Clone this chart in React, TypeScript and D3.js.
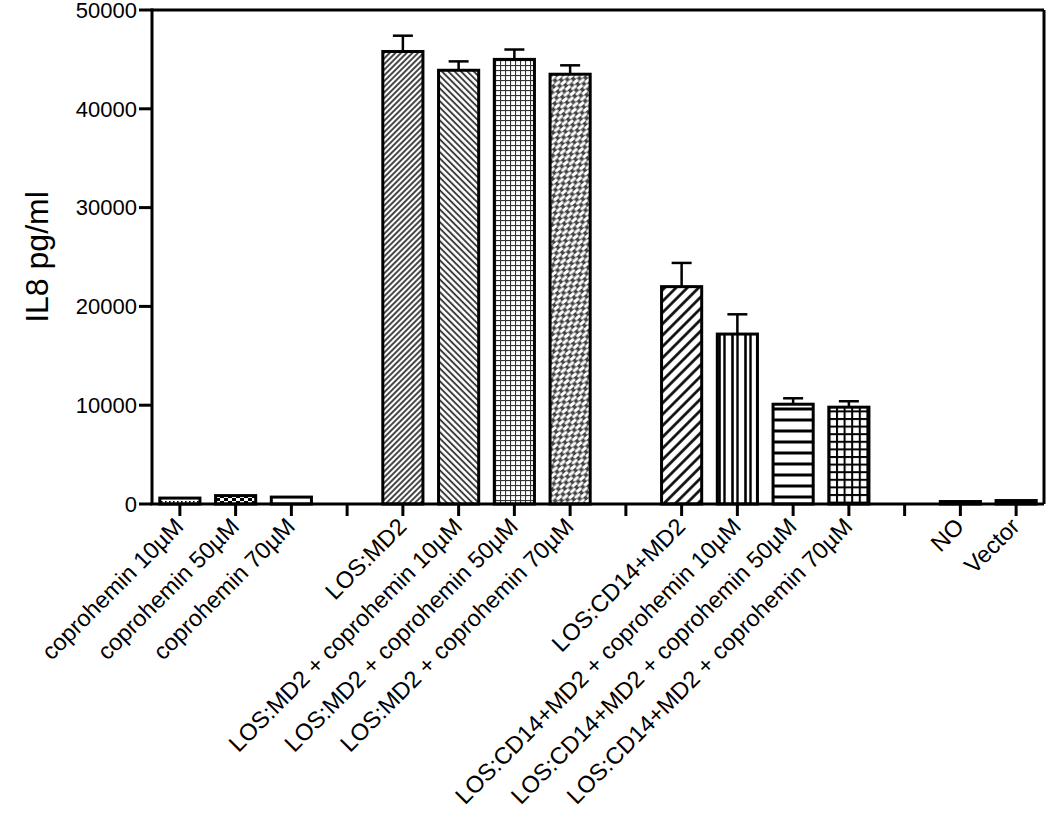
import React from "react";
import * as d3 from "d3";

const categories: string[] = [
  "coprohemin 10µM",
  "coprohemin 50µM",
  "coprohemin 70µM",
  "",
  "LOS:MD2",
  "LOS:MD2 + coprohemin 10µM",
  "LOS:MD2 + coprohemin 50µM",
  "LOS:MD2 + coprohemin 70µM",
  "",
  "LOS:CD14+MD2",
  "LOS:CD14+MD2 + coprohemin 10µM",
  "LOS:CD14+MD2 + coprohemin 50µM",
  "LOS:CD14+MD2 + coprohemin 70µM",
  "",
  "NO",
  "Vector",
];
const values: (number | null)[] = [
  600, 850, 700, null, 45800, 43900, 45000, 43500, null, 22000, 17200, 10100, 9800, null, 250, 350,
];
const errors: (number | null)[] = [
  0, 0, 0, null, 1600, 900, 1000, 900, null, 2400, 2000, 600, 600, null, 0, 0,
];
const fills: string[] = [
  "url(#pDots)", "url(#pChecker)", "#fff", "", "url(#pDiagFineA)", "url(#pDiagFineB)", "url(#pGridFine)", "url(#pBrick)", "",
  "url(#pDiagCoarse)", "url(#pVert)", "url(#pHoriz)", "url(#pGrid)", "", "#000", "#000",
];
const yTicks: number[] = [0, 10000, 20000, 30000, 40000, 50000];

const W = 1050, H = 819;
const left = 152, right = 1044, top = 10, bottom = 504;
const FONT = "'Liberation Sans', Arial, Helvetica, sans-serif";

export default function App() {
  const x = d3.scaleBand<number>().domain(d3.range(categories.length)).range([left, right]).paddingInner(0.28).paddingOuter(0.14);
  const y = d3.scaleLinear().domain([0, 50000]).range([bottom, top]);
  const bw = x.bandwidth();
  const cx = (i: number) => (x(i) as number) + bw / 2;

  return (
    <svg width={W} height={H} style={{ position: "absolute", left: 0, top: 0, background: "#fff" }}>
      <defs>
        <pattern id="pDots" width="4" height="4" patternUnits="userSpaceOnUse">
          <rect width="4" height="4" fill="#fff" />
          <rect x="1" y="1" width="1.6" height="1.6" fill="#000" />
        </pattern>
        <pattern id="pChecker" width="8" height="6" patternUnits="userSpaceOnUse">
          <rect width="8" height="6" fill="#fff" />
          <rect x="0" y="0" width="4" height="3" fill="#000" />
          <rect x="4" y="3" width="4" height="3" fill="#000" />
        </pattern>
        <pattern id="pDiagFineA" width="4" height="4" patternUnits="userSpaceOnUse" patternTransform="rotate(45)">
          <rect width="4" height="4" fill="#fff" />
          <line x1="1" y1="0" x2="1" y2="4" stroke="#333" strokeWidth="1.8" />
        </pattern>
        <pattern id="pDiagFineB" width="4.5" height="4.5" patternUnits="userSpaceOnUse" patternTransform="rotate(-45)">
          <rect width="4.5" height="4.5" fill="#fff" />
          <line x1="1" y1="0" x2="1" y2="4.5" stroke="#333" strokeWidth="1.8" />
        </pattern>
        <pattern id="pGridFine" width="5" height="5" patternUnits="userSpaceOnUse">
          <rect width="5" height="5" fill="#fff" />
          <line x1="0.5" y1="0" x2="0.5" y2="5" stroke="#333" strokeWidth="1.2" />
          <line x1="0" y1="0.5" x2="5" y2="0.5" stroke="#333" strokeWidth="1.2" />
        </pattern>
        <pattern id="pBrick" width="10" height="7" patternUnits="userSpaceOnUse" patternTransform="rotate(-40)">
          <rect width="10" height="7" fill="#444" />
          <rect x="0.3" y="0.6" width="6.4" height="2.8" rx="1" fill="#fff" />
          <rect x="5.3" y="4.1" width="6.4" height="2.8" rx="1" fill="#fff" />
          <rect x="-4.7" y="4.1" width="6.4" height="2.8" rx="1" fill="#fff" />
        </pattern>
        <pattern id="pDiagCoarse" width="8" height="8" patternUnits="userSpaceOnUse" patternTransform="rotate(45)">
          <rect width="8" height="8" fill="#fff" />
          <line x1="1.5" y1="0" x2="1.5" y2="8" stroke="#000" strokeWidth="2.6" />
        </pattern>
        <pattern id="pVert" width="13" height="10" patternUnits="userSpaceOnUse" x="718">
          <rect width="13" height="10" fill="#fff" />
          <line x1="1.5" y1="0" x2="1.5" y2="10" stroke="#000" strokeWidth="2.6" />
          <line x1="6.5" y1="0" x2="6.5" y2="10" stroke="#000" strokeWidth="2.4" />
        </pattern>
        <pattern id="pHoriz" width="10" height="11" patternUnits="userSpaceOnUse">
          <rect width="10" height="11" fill="#fff" />
          <line x1="0" y1="2" x2="10" y2="2" stroke="#000" strokeWidth="3" />
        </pattern>
        <pattern id="pGrid" width="7.6" height="7.6" patternUnits="userSpaceOnUse">
          <rect width="7.6" height="7.6" fill="#fff" />
          <line x1="1" y1="0" x2="1" y2="7.6" stroke="#000" strokeWidth="2" />
          <line x1="0" y1="1" x2="7.6" y2="1" stroke="#000" strokeWidth="2" />
        </pattern>
      </defs>

      {/* frame */}
      <line x1={left} y1={top} x2={right} y2={top} stroke="#000" strokeWidth={3} />
      <line x1={right} y1={top} x2={right} y2={bottom} stroke="#000" strokeWidth={3} />

      {/* bars */}
      {values.map((v, i) =>
        v === null ? null : (
          <g key={i}>
            {errors[i] ? (
              <g stroke="#000" strokeWidth={2.5}>
                <line x1={cx(i)} x2={cx(i)} y1={y(v)} y2={y(v + (errors[i] as number))} />
                <line x1={cx(i) - 10} x2={cx(i) + 10} y1={y(v + (errors[i] as number))} y2={y(v + (errors[i] as number))} />
              </g>
            ) : null}
            <rect
              x={x(i) as number}
              y={y(v)}
              width={bw}
              height={y(0) - y(v)}
              fill={fills[i]}
              stroke="#000"
              strokeWidth={3}
            />
          </g>
        )
      )}

      {/* y axis */}
      <line x1={left} y1={top - 1.5} x2={left} y2={bottom} stroke="#000" strokeWidth={3} />
      {yTicks.map((t) => (
        <g key={t}>
          <line x1={left - 13} x2={left} y1={y(t)} y2={y(t)} stroke="#000" strokeWidth={3} />
          <text x={left - 15} y={y(t)} dy="0.35em" textAnchor="end" fontFamily={FONT} fontSize={22} fill="#000">
            {t}
          </text>
        </g>
      ))}
      <text
        transform={`translate(48,${(top + bottom) / 2}) rotate(-90)`}
        textAnchor="middle"
        fontFamily={FONT}
        fontSize={32}
        fill="#000"
      >
        IL8 pg/ml
      </text>

      {/* x axis */}
      <line x1={left - 1.5} x2={right} y1={bottom} y2={bottom} stroke="#000" strokeWidth={3} />
      {categories.map((c, i) => (
        <g key={i}>
          <line x1={cx(i)} x2={cx(i)} y1={bottom} y2={bottom + 12} stroke="#000" strokeWidth={3} />
          {c ? (
            <text
              transform={`translate(${cx(i) + 5},${bottom + 24}) rotate(-45)`}
              textAnchor="end"
              fontFamily={FONT}
              fontSize={23.5}
              fill="#000"
            >
              {c}
            </text>
          ) : null}
        </g>
      ))}
    </svg>
  );
}
